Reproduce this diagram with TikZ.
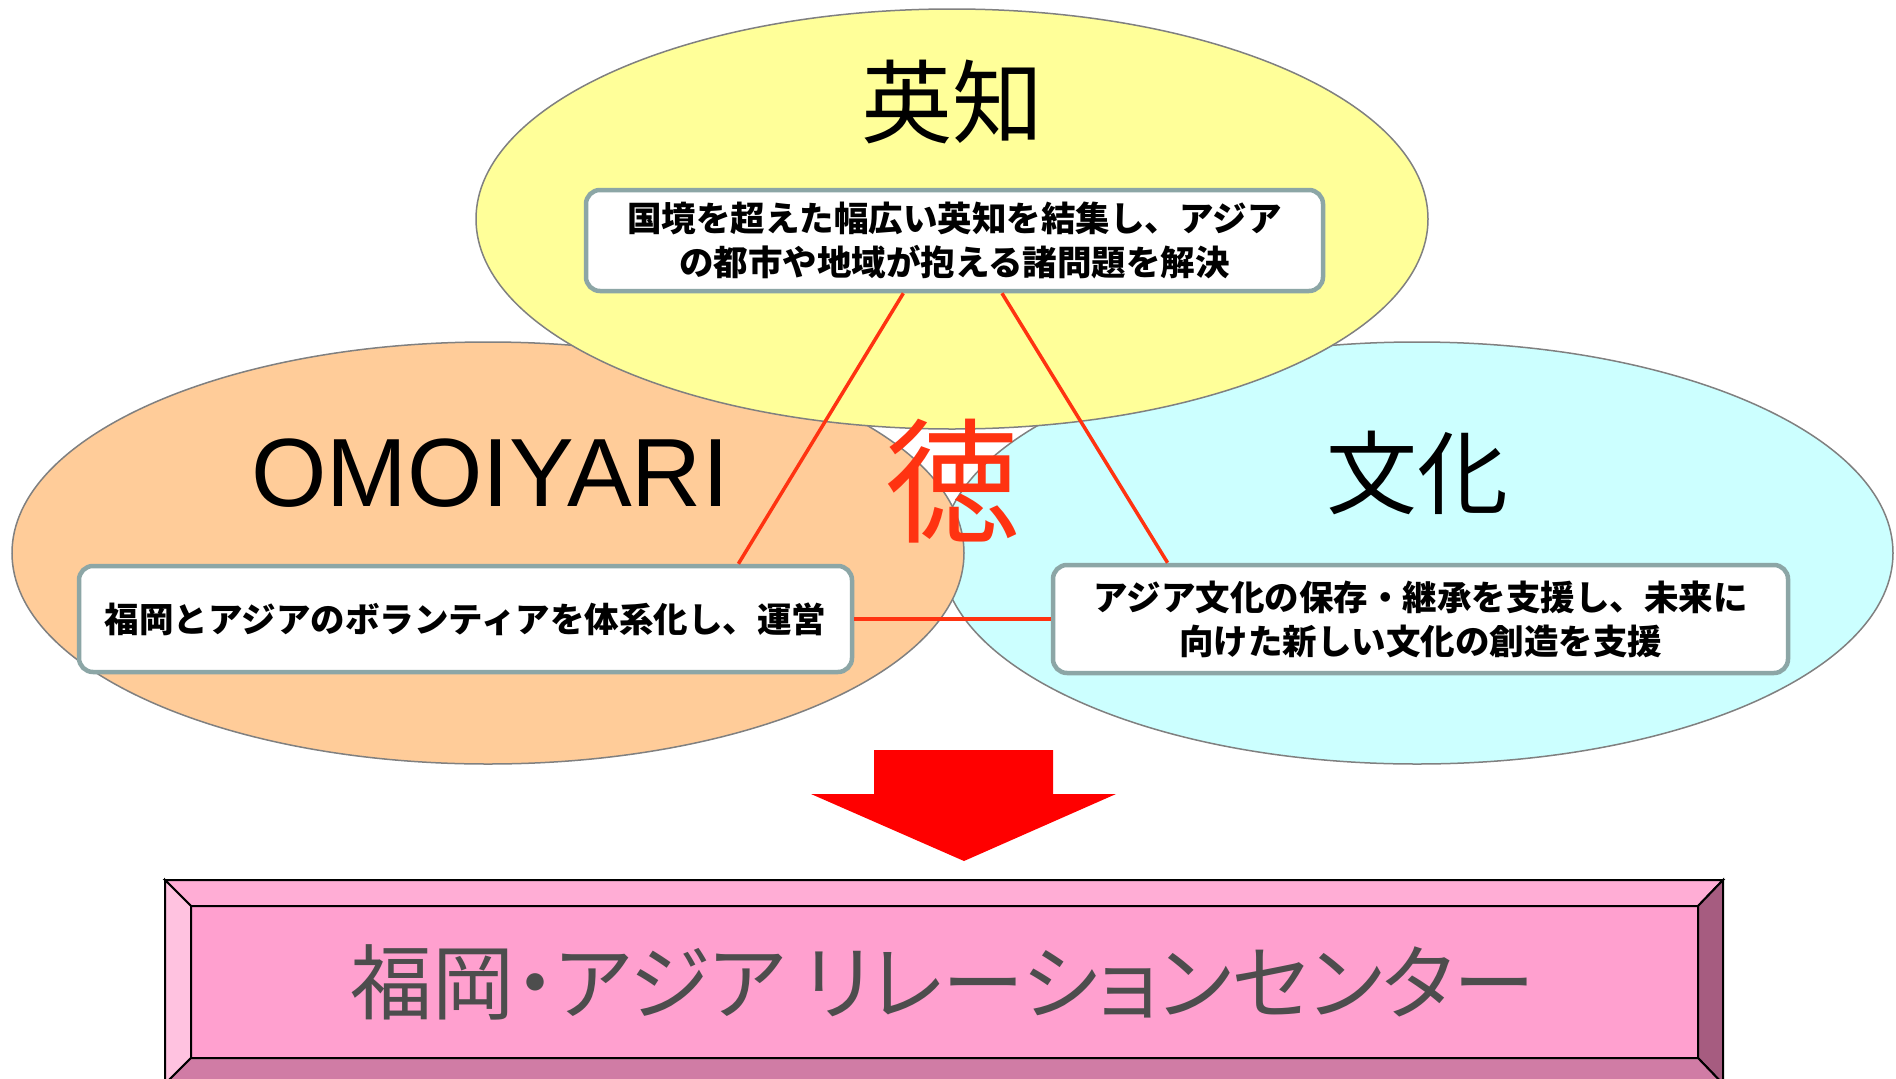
\documentclass[tikz,border=0pt]{standalone}
\usepackage{fontspec}
\setmainfont{Liberation Sans}
\newfontfamily\jp{Noto Sans CJK JP}
\newfontfamily\jpp[RawFeature=+palt]{Noto Sans CJK JP}
\usetikzlibrary{calc}
\definecolor{yelF}{HTML}{FFFF99}
\definecolor{oraF}{HTML}{FFCC99}
\definecolor{cyaF}{HTML}{CCFFFF}
\definecolor{ellB}{HTML}{808080}
\definecolor{boxB}{HTML}{8CA6A6}
\definecolor{redL}{HTML}{FF3311}
\definecolor{pkIn}{HTML}{FFA0CF}
\definecolor{pkTop}{HTML}{FFADD5}
\definecolor{pkLeft}{HTML}{FFC2E0}
\definecolor{pkBot}{HTML}{D07CA5}
\definecolor{pkRight}{HTML}{A65C80}
\definecolor{txtG}{HTML}{4D4D4D}
\begin{document}
\begin{tikzpicture}[x=1pt,y=-1pt,
  ell/.style={draw=ellB,line width=1.5pt},
  tbox/.style={draw=boxB,line width=4.5pt,fill=white,rounded corners=14pt,
    align=center,inner sep=0pt,font=\jp\bfseries\fontsize{34.5}{44}\selectfont},
  ttl/.style={inner sep=0pt,font=\jp\fontsize{91}{96}\selectfont},
  link/.style={draw=redL,line width=3.5pt},
  bev/.style={draw=black,line width=2pt,line join=miter}]
\useasboundingbox (0,0) rectangle (1896,1079);
\fill[white] (0,0) rectangle (1896,1079);
% ellipses
\draw[ell,fill=cyaF] (1417,553) ellipse [x radius=476,y radius=211];
\draw[ell,fill=oraF] (488,553) ellipse [x radius=476,y radius=211];
\draw[ell,fill=yelF] (952,219) ellipse [x radius=476,y radius=210];
% titles
\node[ttl] (t1) at (952,102) {英知};
\node[inner sep=0pt,font=\fontsize{97}{100}\selectfont] (t2) at (490,473) {OMOIYARI};
\node[ttl] (t3) at (1417,473) {文化};
\node[inner sep=0pt,text=redL,font=\jp\fontsize{135}{140}\selectfont] (toku) at (953,481) {徳};
% boxes
\node[tbox,minimum width=737,minimum height=101] (top) at (954.5,240.5)
  {国境を超えた幅広い英知を結集し、アジア\\の都市や地域が抱える諸問題を解決};
\node[tbox,minimum width=773,minimum height=106] (lft) at (465.5,619)
  {福岡とアジアのボランティアを体系化し、運営};
\node[tbox,minimum width=735,minimum height=108] (rgt) at (1420.5,619)
  {アジア文化の保存・継承を支援し、未来に\\向けた新しい文化の創造を支援};
% connectors
\draw[link] ($(top.south west)!0.431!(top.south east)$) -- ($(lft.north west)!0.851!(lft.north east)$);
\draw[link] ($(top.south west)!0.564!(top.south east)$) -- ($(rgt.north west)!0.158!(rgt.north east)$);
\draw[link] (lft.east) -- (rgt.west);
% big arrow
\fill[red] (874,750) -- (1053,750) -- (1053,794) -- (1116,794) -- (964,861) -- (811,794) -- (874,794) -- cycle;
% bevel box
\fill[pkIn] (191,906) rectangle (1698,1058);
\draw[bev,fill=pkTop] (165,880) -- (1723,880) -- (1698,906) -- (191,906) -- cycle;
\draw[bev,fill=pkLeft] (165,880) -- (191,906) -- (191,1058) -- (165,1084) -- cycle;
\draw[bev,fill=pkRight] (1723,880) -- (1723,1084) -- (1698,1058) -- (1698,906) -- cycle;
\draw[bev,fill=pkBot] (191,1058) -- (1698,1058) -- (1723,1084) -- (165,1084) -- cycle;
\draw[bev] (191,906) rectangle (1698,1058);
\node[inner sep=0pt,text=txtG,font=\jpp\fontsize{82}{88}\selectfont] (title) at (943,982)
  {福岡・アジア リレーションセンター};
\end{tikzpicture}
\end{document}
